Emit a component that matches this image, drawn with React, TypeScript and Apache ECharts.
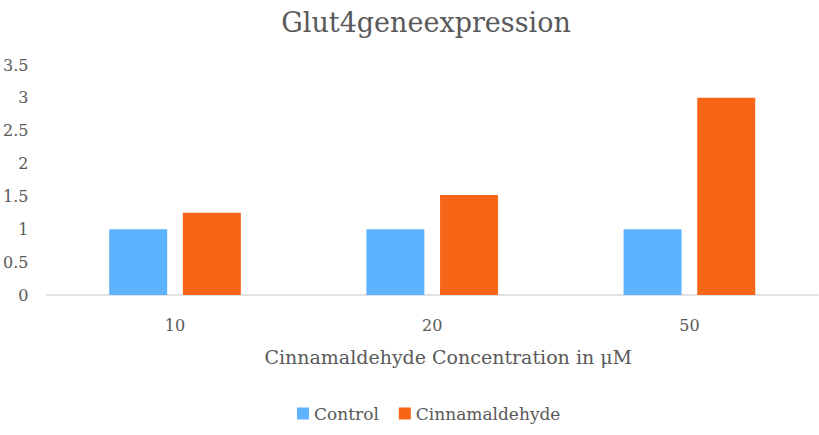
import React, { useEffect, useRef } from "react";
import * as echarts from "echarts";

const categories = ["10", "20", "50"];
const controlValues = [1, 1, 1];
const cinnamaldehydeValues = [1.25, 1.52, 3.0];
const yTicks = [0, 0.5, 1, 1.5, 2, 2.5, 3, 3.5];

export default function App() {
  const ref = useRef<HTMLDivElement>(null);
  useEffect(() => {
    if (!ref.current) return;
    const chart = echarts.init(ref.current, undefined, { renderer: "svg" });
    const font = "DejaVu Serif";
    chart.setOption({
      animation: false,
      backgroundColor: "#ffffff",
      title: {
        text: "Glut4geneexpression",
        left: 421,
        textAlign: "center",
        top: 4,
        textStyle: { fontFamily: font, fontSize: 27, fontWeight: "normal", color: "#595959" },
      },
      legend: {
        data: ["Control", "Cinnamaldehyde"],
        left: 292,
        top: 400,
        itemWidth: 12,
        itemHeight: 12,
        itemGap: 20,
        icon: "rect",
        textStyle: { fontFamily: font, fontSize: 17, color: "#595959" },
      },
      grid: { left: 44, right: 1, top: 65, bottom: 140, containLabel: false },
      xAxis: {
        type: "category",
        data: categories,
        name: "Cinnamaldehyde Concentration in μM",
        nameLocation: "middle",
        nameGap: 52,
        nameTextStyle: { fontFamily: font, fontSize: 19, color: "#595959", padding: [0, 0, 0, 32] },
        axisLine: { lineStyle: { color: "#d9d9d9", width: 1.5 } },
        axisTick: { show: false },
        axisLabel: { fontFamily: font, fontSize: 16, color: "#595959", margin: 22 },
      },
      yAxis: {
        type: "value",
        min: 0,
        max: 3.5,
        interval: 0.5,
        splitLine: { show: false },
        axisLine: { show: false },
        axisTick: { show: false },
        axisLabel: {
          fontFamily: font,
          fontSize: 16,
          color: "#595959",
          margin: 18,
          formatter: (v: number) => (yTicks.includes(v) ? String(v) : ""),
        },
      },
      series: [
        {
          name: "Control",
          type: "bar",
          data: controlValues,
          barWidth: 58,
          barGap: "27%",
          itemStyle: { color: "#5EB3FF" },
        },
        {
          name: "Cinnamaldehyde",
          type: "bar",
          data: cinnamaldehydeValues,
          barWidth: 58,
          barGap: "27%",
          itemStyle: { color: "#F76516" },
        },
      ],
    });
    return () => chart.dispose();
  }, []);
  return (
    <div
      ref={ref}
      style={{ position: "fixed", left: 0, top: 0, width: 819, height: 435 }}
    />
  );
}
